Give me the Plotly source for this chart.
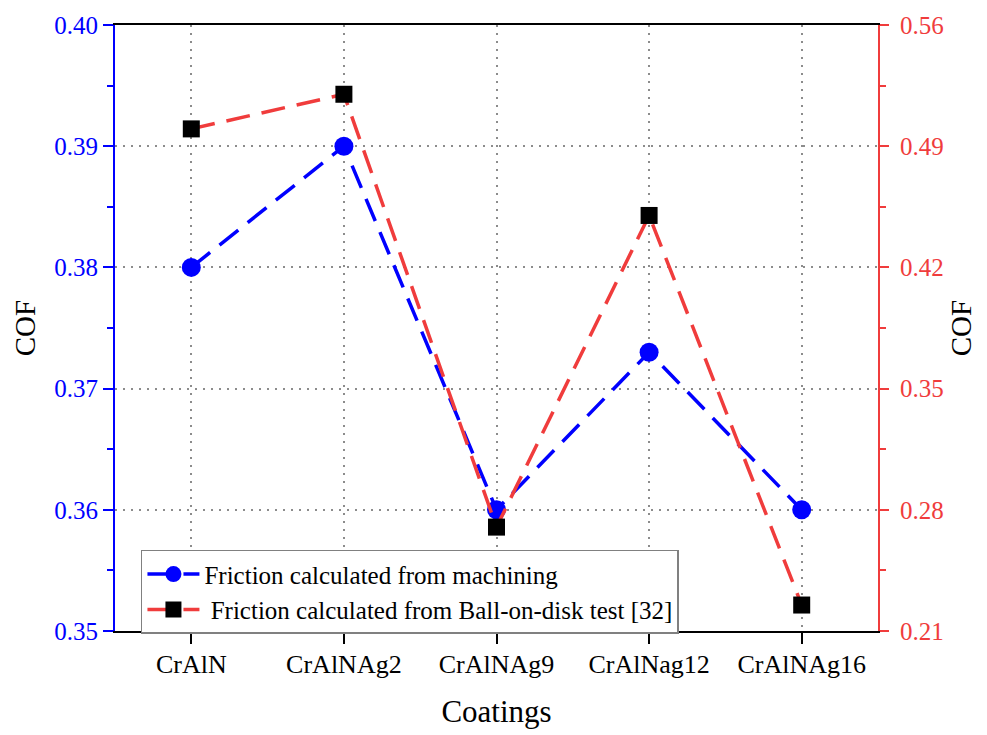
import plotly.graph_objects as go

coatings = ["CrAlN", "CrAlNAg2", "CrAlNAg9", "CrAlNag12", "CrAlNAg16"]
cof_machining = [0.380, 0.390, 0.360, 0.373, 0.360]
cof_ball_on_disk = [0.500, 0.520, 0.270, 0.450, 0.225]

left_ticks = [0.35, 0.36, 0.37, 0.38, 0.39, 0.40]
right_ticks = [0.21, 0.28, 0.35, 0.42, 0.49, 0.56]

FONT = "Liberation Serif"
BLUE = "#0000ff"
RED = "#f03c3c"
GRID = "#8c8c8c"

fig = go.Figure()
fig.add_trace(go.Scatter(
    x=coatings, y=cof_machining, name="Friction calculated from machining",
    mode="lines+markers",
    line=dict(color=BLUE, width=3.5, dash="24px,12px"),
    marker=dict(symbol="circle", size=19, color=BLUE),
    yaxis="y",
))
fig.add_trace(go.Scatter(
    x=coatings, y=cof_ball_on_disk,
    name=" Friction calculated from Ball-on-disk test [32]",
    mode="lines+markers",
    line=dict(color=RED, width=3.5, dash="24px,12px"),
    marker=dict(symbol="square", size=17, color="black",
                line=dict(color="black", width=0)),
    yaxis="y2",
))

fig.update_layout(
    width=987, height=735,
    margin=dict(l=115, r=109, t=20, b=99),
    plot_bgcolor="white", paper_bgcolor="white",
    font=dict(family=FONT, size=24, color="black"),
    showlegend=True,
    legend=dict(
        x=0.034, y=0.134, xanchor="left", yanchor="top",
        bgcolor="white", bordercolor="#808080", borderwidth=1.5,
        font=dict(family=FONT, size=25, color="black"),
        tracegroupgap=0, itemwidth=52,
    ),
    xaxis=dict(
        type="category", range=[-0.5, 4.5],
        showline=True, linecolor="black", linewidth=2, mirror=True,
        ticks="outside", ticklen=11, tickwidth=2, tickcolor="black",
        showgrid=True, gridcolor=GRID, griddash="2px,6px", gridwidth=1.5,
        tickfont=dict(family=FONT, size=26, color="black"),
        ticklabelstandoff=-2,
        title=dict(text="Coatings", font=dict(family=FONT, size=31), standoff=22),
        zeroline=False,
    ),
    yaxis=dict(
        range=[0.35, 0.40], tickvals=left_ticks,
        ticktext=[f"{v:.2f}" for v in left_ticks],
        showline=True, linecolor=BLUE, linewidth=2,
        ticks="outside", ticklen=10, tickwidth=2, tickcolor=BLUE,
        minor=dict(ticks="outside", ticklen=6, tickwidth=2, tickcolor=BLUE,
                   dtick=0.005, showgrid=False),
        showgrid=True, gridcolor=GRID, griddash="2px,6px", gridwidth=1.5,
        tickfont=dict(family=FONT, size=25, color=BLUE),
        title=dict(text="COF", font=dict(family=FONT, size=29, color="black"),
                   standoff=10),
        zeroline=False,
    ),
    yaxis2=dict(
        range=[0.21, 0.56], tickvals=right_ticks,
        ticktext=[f"{v:.2f}" for v in right_ticks],
        overlaying="y", side="right",
        showline=True, linecolor=RED, linewidth=2,
        ticks="outside", ticklen=9, tickwidth=2, tickcolor=RED,
        minor=dict(ticks="outside", ticklen=6, tickwidth=2, tickcolor=RED,
                   dtick=0.035, showgrid=False),
        showgrid=False,
        tickfont=dict(family=FONT, size=25, color=RED),
        ticklabelstandoff=6,
        title=dict(text="COF", font=dict(family=FONT, size=29, color="black"),
                   standoff=8),
        zeroline=False,
    ),
)

fig.write_html("out.html")
